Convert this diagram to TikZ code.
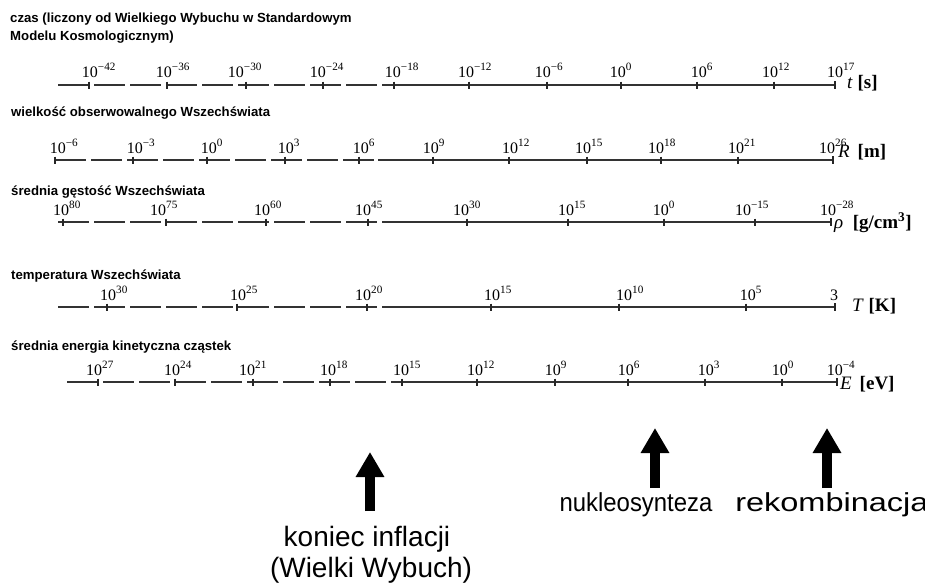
\documentclass[tikz,border=0pt]{standalone}
\usepackage{fontspec}
\setmainfont{Liberation Serif}
\newfontfamily\sansf{Liberation Sans}
\usetikzlibrary{arrows.meta}
\tikzset{
  axisline/.style={line width=1.7pt, draw=black!80},
  dashedaxis/.style={axisline, dash pattern=on 31pt off 5pt},
  tickmark/.style={line width=1.6pt, draw=black!85},
  ticklab/.style={font=\fontsize{16}{18}\selectfont, inner sep=0pt, anchor=base},
  rowtitle/.style={font=\sansf\bfseries\fontsize{13.2}{16}\selectfont, anchor=base west, inner sep=0pt},
  unitlab/.style={font=\fontsize{19}{21}\selectfont, anchor=base west, inner sep=0pt},
  bigarrow/.style={line width=10pt, draw=black, -{Triangle[length=25pt,width=27pt]}},
  eventlab/.style={font=\sansf\fontsize{26}{30}\selectfont, inner sep=0pt, anchor=base},
}
\begin{document}
\begin{tikzpicture}[x=1pt,y=-1pt]
\useasboundingbox[fill=white] (0,0) rectangle (925,584);

% ---------- titles
\node[rowtitle] (ti1a) at (10,22.7) {czas (liczony od Wielkiego Wybuchu w Standardowym};
\node[rowtitle] (ti1b) at (10,40) {Modelu Kosmologicznym)};
\node[rowtitle] (ti2) at (11,116) {wielkość obserwowalnego Wszechświata};
\node[rowtitle] (ti3) at (11,195) {średnia gęstość Wszechświata};
\node[rowtitle] (ti4) at (11,279) {temperatura Wszechświata};
\node[rowtitle] (ti5) at (11,350) {średnia energia kinetyczna cząstek};

% ---------- row 1: time
\draw[dashedaxis] (58,85) -- (386,85);
\draw[axisline] (386,85) -- (835,85);
\draw[tickmark] (835,81) -- (835,89);
\foreach \tx/\lx/\e in {89/99/−42,167/173/−36,246/245/−30,323/327/−24,394/402/−18,469/475/−12,547/549/−6,621/621/0,697/702/6,774/776/12,835/841/17}{
  \draw[tickmark] (\tx,81.5) -- (\tx,88.5);
  \node[ticklab] (ta\tx) at (\lx,77) {10\textsuperscript{\e}};
}
\node[unitlab] (ut) at (847,88) {\textit{t} \textbf{[s]}};

% ---------- row 2: size
\draw[dashedaxis] (55,160) -- (378,160);
\draw[axisline] (378,160) -- (833,160);
\draw[tickmark] (833,156) -- (833,164);
\foreach \tx/\lx/\e in {55/64/−6,133/141/−3,207/212/0,285/289/3,359/364/6,433/434/9,509/516/12,587/589/15,661/662/18,738/742/21,833/833/26}{
  \draw[tickmark] (\tx,156.5) -- (\tx,163.5);
  \node[ticklab] (ra\tx) at (\lx,153) {10\textsuperscript{\e}};
}
\node[unitlab] (ur) at (838,157) {\textit{R}\, \textbf{[m]}};

% ---------- row 3: density
\draw[dashedaxis] (58,222) -- (385,222);
\draw[axisline] (385,222) -- (831,222);
\draw[tickmark] (831,218) -- (831,226);
\foreach \tx/\lx/\e in {63/67/80,166/164/75,266/268/60,368/369/45,467/467/30,568/572/15,664/664/0,755/752/−15,831/837/−28}{
  \draw[tickmark] (\tx,218.5) -- (\tx,225.5);
  \node[ticklab] (da\tx) at (\lx,215) {10\textsuperscript{\e}};
}
\node[unitlab] (ud) at (834,228) {\textit{ρ}\enspace\textbf{[g/cm\textsuperscript{3}]}};

% ---------- row 4: temperature
\draw[dashedaxis] (58,307) -- (387,307);
\draw[axisline] (387,307) -- (835,307);
\draw[tickmark] (835,303) -- (835,311);
\foreach \tx/\lx/\e in {107/114/30,237/244/25,367/369/20,491/498/15,619/630/10,746/751/5}{
  \draw[tickmark] (\tx,303.5) -- (\tx,310.5);
  \node[ticklab] (ka\tx) at (\lx,300) {10\textsuperscript{\e}};
}
\node[ticklab] (ka835) at (834,300) {3};
\node[unitlab] (uk) at (852,311) {\textit{T} \textbf{[K]}};

% ---------- row 5: energy
\draw[dashedaxis] (67,382) -- (393,382);
\draw[axisline] (393,382) -- (837,382);
\draw[tickmark] (837,378) -- (837,386);
\foreach \tx/\lx/\e in {98/100/27,175/178/24,253/253/21,330/334/18,402/407/15,477/481/12,555/556/9,628/629/6,705/709/3,782/783/0,837/841/−4}{
  \draw[tickmark] (\tx,378.5) -- (\tx,385.5);
  \node[ticklab] (ea\tx) at (\lx,375) {10\textsuperscript{\e}};
}
\node[unitlab] (ue) at (840,389) {\textit{E}\, \textbf{[eV]}};

% ---------- events
\coordinate (a1s) at (370,511); \coordinate (a1t) at (370,452);
\coordinate (a2s) at (655,488); \coordinate (a2t) at (655,428);
\coordinate (a3s) at (827,488); \coordinate (a3t) at (827,428);
\draw[bigarrow] (a1s) -- (a1t);
\draw[bigarrow] (a2s) -- (a2t);
\draw[bigarrow] (a3s) -- (a3t);
\node[eventlab, font=\sansf\fontsize{28}{30}\selectfont] (ev1a) at (367,546) {koniec inflacji};
\node[eventlab, font=\sansf\fontsize{28}{30}\selectfont] (ev1b) at (371,577) {(Wielki Wybuch)};
\node[eventlab, xscale=0.92] (ev2) at (636,511) {nukleosynteza};
\node[eventlab, anchor=base west, xscale=1.25] (ev3) at (735,511) {rekombinacja};
\end{tikzpicture}
\end{document}
